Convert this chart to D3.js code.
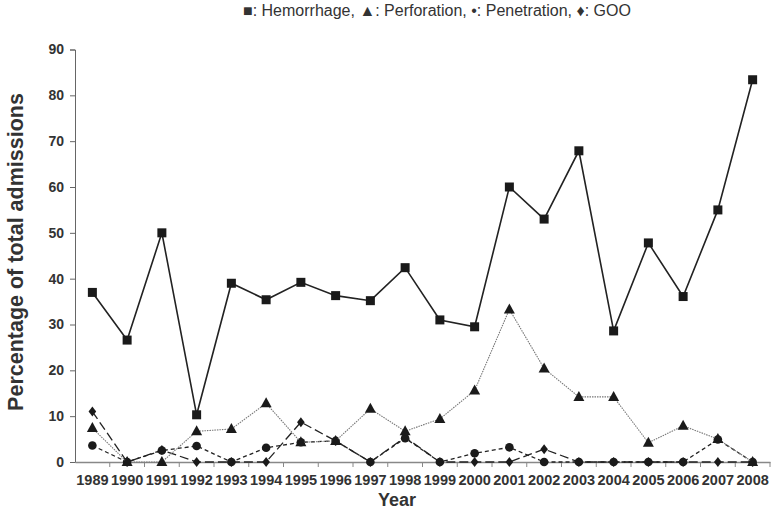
<!DOCTYPE html>
<html>
<head>
<meta charset="utf-8">
<script src="https://cdn.jsdelivr.net/npm/d3@7"></script>
<style>
  body { margin: 0; background: #fff; }
  svg { font-family: "Liberation Sans", Arial, sans-serif; }
</style>
</head>
<body>
<script>
// データ
var years = ["1989","1990","1991","1992","1993","1994","1995","1996","1997","1998",
             "1999","2000","2001","2002","2003","2004","2005","2006","2007","2008"];
var hemorrhage  = [37, 26.6, 50, 10.3, 39, 35.4, 39.2, 36.3, 35.2, 42.4, 31, 29.5, 60, 53, 67.9, 28.6, 47.8, 36.1, 55, 83.4];
var perforation = [7.4, 0, 0, 6.7, 7.2, 12.8, 4.3, 4.6, 11.6, 6.7, 9.4, 15.6, 33.3, 20.4, 14.2, 14.2, 4.2, 7.9, 5, 0];
var penetration = [3.6, 0, 2.5, 3.5, 0, 3.1, 4.3, 4.6, 0, 5.2, 0, 1.9, 3.2, 0, 0, 0, 0, 0, 4.9, 0];
var goo         = [11, 0, 2.6, 0, 0, 0, 8.7, 4.6, 0, 5.4, 0, 0, 0, 2.8, 0, 0, 0, 0, 0, 0];
var yTicks = [0, 10, 20, 30, 40, 50, 60, 70, 80, 90];

// サイズ
var W = 773, H = 514;
var plot = {left: 75, right: 770, top: 49.5, bottom: 462};

var svg = d3.select("body").append("svg")
    .attr("width", W).attr("height", H);

var x = d3.scaleBand().domain(years).range([plot.left, plot.right]);
var y = d3.scaleLinear().domain([0, 90]).range([plot.bottom, plot.top]);

// 凡例
svg.append("text")
    .attr("x", 243).attr("y", 16)
    .attr("font-size", 16).attr("fill", "#333")
    .text("\u25A0: Hemorrhage, \u25B2: Perforation, \u2022: Penetration, \u2666: GOO");

// Y axis
var yAxis = svg.append("g")
    .attr("transform", "translate(" + plot.left + ",0)")
    .call(d3.axisLeft(y).tickValues(yTicks).tickSize(5).tickPadding(6));
yAxis.select(".domain").attr("stroke", "#666");
yAxis.selectAll(".tick line").attr("stroke", "#666");
yAxis.selectAll(".tick text")
    .attr("font-size", 14).attr("font-weight", "bold").attr("fill", "#333")
    .attr("font-family", "Liberation Sans, Arial, sans-serif");

// X axis
var xAxis = svg.append("g")
    .attr("transform", "translate(0," + plot.bottom + ")")
    .call(d3.axisBottom(x).tickSize(0).tickPadding(13));
xAxis.select(".domain").attr("stroke", "#888").attr("stroke-width", 1.5);
xAxis.selectAll(".tick text")
    .attr("font-size", 14.5).attr("font-weight", "bold").attr("fill", "#333")
    .attr("font-family", "Liberation Sans, Arial, sans-serif");
// 区切りの目盛り
svg.append("g").selectAll("line")
    .data(years)
    .enter().append("line")
    .attr("x1", function(d) { return x(d) + x.bandwidth(); })
    .attr("x2", function(d) { return x(d) + x.bandwidth(); })
    .attr("y1", plot.bottom).attr("y2", plot.bottom + 5)
    .attr("stroke", "#888");

// 軸タイトル
svg.append("text")
    .attr("x", 397).attr("y", 506)
    .attr("text-anchor", "middle")
    .attr("font-size", 18).attr("font-weight", "bold").attr("fill", "#333")
    .text("Year");
svg.append("text")
    .attr("transform", "translate(23,252) rotate(-90)")
    .attr("text-anchor", "middle")
    .attr("font-size", 21.5).attr("font-weight", "bold").attr("fill", "#333")
    .text("Percentage of total admissions");

var cx = function(i) { return x(years[i]) + x.bandwidth() / 2; };
var line = d3.line()
    .x(function(d, i) { return cx(i); })
    .y(function(d) { return y(d); });

var series = [
  { values: goo, stroke: "#222", width: 1.3, dash: "9,4", symbol: "diamond" },
  { values: penetration, stroke: "#222", width: 1.3, dash: "4,3", symbol: "circle" },
  { values: perforation, stroke: "#777", width: 1.1, dash: "1.5,1", symbol: "triangle" },
  { values: hemorrhage, stroke: "#222", width: 1.6, dash: null, symbol: "square" }
];

series.forEach(function(s) {
  svg.append("path")
      .attr("d", line(s.values))
      .attr("fill", "none")
      .attr("stroke", s.stroke)
      .attr("stroke-width", s.width)
      .attr("stroke-dasharray", s.dash);

  var g = svg.append("g");
  s.values.forEach(function(v, i) {
    var px = cx(i), py = y(v);
    if (s.symbol == "square") {
      g.append("rect").attr("x", px - 4.5).attr("y", py - 4.5)
        .attr("width", 9).attr("height", 9).attr("fill", "#1a1a1a");
    } else if (s.symbol == "triangle") {
      g.append("path")
        .attr("d", "M" + px + "," + (py - 6) + "L" + (px + 5.5) + "," + (py + 4) + "L" + (px - 5.5) + "," + (py + 4) + "Z")
        .attr("fill", "#1a1a1a");
    } else if (s.symbol == "circle") {
      g.append("circle").attr("cx", px).attr("cy", py).attr("r", 4.3).attr("fill", "#1a1a1a");
    } else {
      g.append("path")
        .attr("d", "M" + px + "," + (py - 5) + "L" + (px + 3.8) + "," + py + "L" + px + "," + (py + 5) + "L" + (px - 3.8) + "," + py + "Z")
        .attr("fill", "#1a1a1a");
    }
  });
});
</script>
</body>
</html>
